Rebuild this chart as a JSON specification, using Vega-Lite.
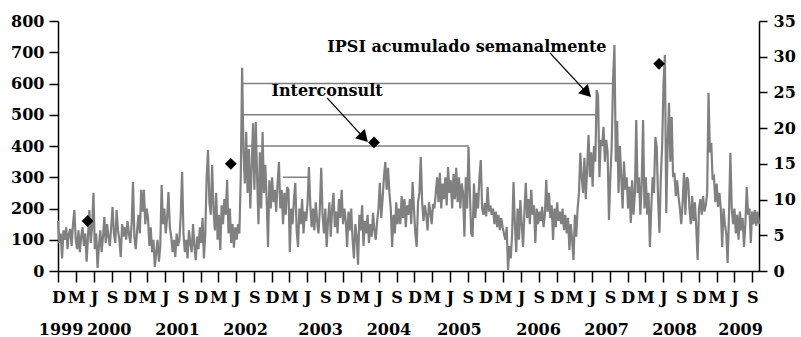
{
"$schema": "https://vega.github.io/schema/vega-lite/v6.json",
"width": 701, "height": 250,
"autosize": {"type": "none"},
"padding": {"left": 58, "top": 21, "right": 42, "bottom": 66},
"background": "white",
"config": {"view": {"stroke": null}, "axis": {"grid": false, "labelFont": "DejaVu Serif", "labelFontWeight": "bold", "labelFontSize": 16, "labelColor": "black", "domainColor": "black", "tickColor": "black", "domainWidth": 1.5, "tickWidth": 1.5}},
"datasets": {
"ipsi": [
{"d":"1999-11-29","v":160},{"d":"1999-12-06","v":90},{"d":"1999-12-13","v":120},{"d":"1999-12-20","v":40},{"d":"1999-12-27","v":130},
{"d":"2000-01-03","v":100},{"d":"2000-01-10","v":140},{"d":"2000-01-17","v":70},{"d":"2000-01-24","v":120},{"d":"2000-01-31","v":135},{"d":"2000-02-07","v":80},{"d":"2000-02-14","v":150},{"d":"2000-02-21","v":195},{"d":"2000-02-28","v":100},{"d":"2000-03-06","v":70},{"d":"2000-03-13","v":130},{"d":"2000-03-20","v":60},{"d":"2000-03-27","v":110},{"d":"2000-04-03","v":140},{"d":"2000-04-10","v":80},{"d":"2000-04-17","v":120},{"d":"2000-04-24","v":30},{"d":"2000-05-01","v":110},{"d":"2000-05-08","v":195},{"d":"2000-05-15","v":90},{"d":"2000-05-22","v":140},{"d":"2000-05-29","v":250},{"d":"2000-06-05","v":70},{"d":"2000-06-12","v":120},{"d":"2000-06-19","v":10},{"d":"2000-06-26","v":80},{"d":"2000-07-03","v":130},{"d":"2000-07-10","v":60},{"d":"2000-07-17","v":110},{"d":"2000-07-24","v":173},{"d":"2000-07-31","v":90},{"d":"2000-08-07","v":150},{"d":"2000-08-14","v":110},{"d":"2000-08-21","v":80},{"d":"2000-08-28","v":140},{"d":"2000-09-04","v":205},{"d":"2000-09-11","v":120},{"d":"2000-09-18","v":90},{"d":"2000-09-25","v":195},{"d":"2000-10-02","v":130},{"d":"2000-10-09","v":100},{"d":"2000-10-16","v":45},{"d":"2000-10-23","v":150},{"d":"2000-10-30","v":110},{"d":"2000-11-06","v":140},{"d":"2000-11-13","v":100},{"d":"2000-11-20","v":160},{"d":"2000-11-27","v":120},{"d":"2000-12-04","v":90},{"d":"2000-12-11","v":150},{"d":"2000-12-18","v":285},{"d":"2000-12-25","v":110},
{"d":"2001-01-01","v":70},{"d":"2001-01-08","v":130},{"d":"2001-01-15","v":180},{"d":"2001-01-22","v":120},{"d":"2001-01-29","v":260},{"d":"2001-02-05","v":190},{"d":"2001-02-12","v":260},{"d":"2001-02-19","v":150},{"d":"2001-02-26","v":200},{"d":"2001-03-05","v":170},{"d":"2001-03-12","v":80},{"d":"2001-03-19","v":140},{"d":"2001-03-26","v":60},{"d":"2001-04-02","v":100},{"d":"2001-04-09","v":13},{"d":"2001-04-16","v":60},{"d":"2001-04-23","v":100},{"d":"2001-04-30","v":30},{"d":"2001-05-07","v":80},{"d":"2001-05-14","v":275},{"d":"2001-05-21","v":150},{"d":"2001-05-28","v":200},{"d":"2001-06-04","v":120},{"d":"2001-06-11","v":170},{"d":"2001-06-18","v":253},{"d":"2001-06-25","v":140},{"d":"2001-07-02","v":110},{"d":"2001-07-09","v":60},{"d":"2001-07-16","v":100},{"d":"2001-07-23","v":45},{"d":"2001-07-30","v":120},{"d":"2001-08-06","v":80},{"d":"2001-08-13","v":100},{"d":"2001-08-20","v":180},{"d":"2001-08-27","v":317},{"d":"2001-09-03","v":120},{"d":"2001-09-10","v":60},{"d":"2001-09-17","v":100},{"d":"2001-09-24","v":40},{"d":"2001-10-01","v":130},{"d":"2001-10-08","v":90},{"d":"2001-10-15","v":60},{"d":"2001-10-22","v":150},{"d":"2001-10-29","v":80},{"d":"2001-11-05","v":35},{"d":"2001-11-12","v":110},{"d":"2001-11-19","v":70},{"d":"2001-11-26","v":140},{"d":"2001-12-03","v":90},{"d":"2001-12-10","v":170},{"d":"2001-12-17","v":40},{"d":"2001-12-24","v":120},{"d":"2001-12-31","v":300},
{"d":"2002-01-07","v":387},{"d":"2002-01-14","v":220},{"d":"2002-01-21","v":180},{"d":"2002-01-28","v":339},{"d":"2002-02-04","v":200},{"d":"2002-02-11","v":130},{"d":"2002-02-18","v":250},{"d":"2002-02-25","v":100},{"d":"2002-03-04","v":180},{"d":"2002-03-11","v":67},{"d":"2002-03-18","v":210},{"d":"2002-03-25","v":150},{"d":"2002-04-01","v":230},{"d":"2002-04-08","v":180},{"d":"2002-04-15","v":291},{"d":"2002-04-22","v":120},{"d":"2002-04-29","v":200},{"d":"2002-05-06","v":90},{"d":"2002-05-13","v":150},{"d":"2002-05-20","v":75},{"d":"2002-05-27","v":140},{"d":"2002-06-03","v":100},{"d":"2002-06-10","v":150},{"d":"2002-06-17","v":120},{"d":"2002-06-24","v":300},{"d":"2002-07-01","v":650},{"d":"2002-07-08","v":380},{"d":"2002-07-15","v":280},{"d":"2002-07-22","v":445},{"d":"2002-07-29","v":250},{"d":"2002-08-05","v":390},{"d":"2002-08-12","v":200},{"d":"2002-08-19","v":330},{"d":"2002-08-26","v":473},{"d":"2002-09-02","v":260},{"d":"2002-09-09","v":477},{"d":"2002-09-16","v":300},{"d":"2002-09-23","v":150},{"d":"2002-09-30","v":380},{"d":"2002-10-07","v":200},{"d":"2002-10-14","v":445},{"d":"2002-10-21","v":250},{"d":"2002-10-28","v":340},{"d":"2002-11-04","v":230},{"d":"2002-11-11","v":77},{"d":"2002-11-18","v":290},{"d":"2002-11-25","v":200},{"d":"2002-12-02","v":300},{"d":"2002-12-09","v":220},{"d":"2002-12-16","v":260},{"d":"2002-12-23","v":190},{"d":"2002-12-30","v":280},
{"d":"2003-01-06","v":349},{"d":"2003-01-13","v":200},{"d":"2003-01-20","v":260},{"d":"2003-01-27","v":150},{"d":"2003-02-03","v":250},{"d":"2003-02-10","v":180},{"d":"2003-02-17","v":269},{"d":"2003-02-24","v":260},{"d":"2003-03-03","v":61},{"d":"2003-03-10","v":200},{"d":"2003-03-17","v":150},{"d":"2003-03-24","v":230},{"d":"2003-03-31","v":282},{"d":"2003-04-07","v":130},{"d":"2003-04-14","v":77},{"d":"2003-04-21","v":200},{"d":"2003-04-28","v":150},{"d":"2003-05-05","v":230},{"d":"2003-05-12","v":120},{"d":"2003-05-19","v":190},{"d":"2003-05-26","v":160},{"d":"2003-06-02","v":220},{"d":"2003-06-09","v":333},{"d":"2003-06-16","v":210},{"d":"2003-06-23","v":140},{"d":"2003-06-30","v":200},{"d":"2003-07-07","v":130},{"d":"2003-07-14","v":220},{"d":"2003-07-21","v":160},{"d":"2003-07-28","v":120},{"d":"2003-08-04","v":200},{"d":"2003-08-11","v":330},{"d":"2003-08-18","v":180},{"d":"2003-08-25","v":120},{"d":"2003-09-01","v":200},{"d":"2003-09-08","v":77},{"d":"2003-09-15","v":160},{"d":"2003-09-22","v":220},{"d":"2003-09-29","v":110},{"d":"2003-10-06","v":200},{"d":"2003-10-13","v":250},{"d":"2003-10-20","v":140},{"d":"2003-10-27","v":190},{"d":"2003-11-03","v":120},{"d":"2003-11-10","v":230},{"d":"2003-11-17","v":170},{"d":"2003-11-24","v":260},{"d":"2003-12-01","v":150},{"d":"2003-12-08","v":200},{"d":"2003-12-15","v":160},{"d":"2003-12-22","v":77},{"d":"2003-12-29","v":190},
{"d":"2004-01-05","v":130},{"d":"2004-01-12","v":200},{"d":"2004-01-19","v":100},{"d":"2004-01-26","v":40},{"d":"2004-02-02","v":150},{"d":"2004-02-09","v":110},{"d":"2004-02-16","v":20},{"d":"2004-02-23","v":180},{"d":"2004-03-01","v":130},{"d":"2004-03-08","v":210},{"d":"2004-03-15","v":80},{"d":"2004-03-22","v":160},{"d":"2004-03-29","v":120},{"d":"2004-04-05","v":180},{"d":"2004-04-12","v":90},{"d":"2004-04-19","v":150},{"d":"2004-04-26","v":110},{"d":"2004-05-03","v":186},{"d":"2004-05-10","v":130},{"d":"2004-05-17","v":100},{"d":"2004-05-24","v":160},{"d":"2004-05-31","v":200},{"d":"2004-06-07","v":282},{"d":"2004-06-14","v":170},{"d":"2004-06-21","v":230},{"d":"2004-06-28","v":300},{"d":"2004-07-05","v":349},{"d":"2004-07-12","v":260},{"d":"2004-07-19","v":330},{"d":"2004-07-26","v":250},{"d":"2004-08-02","v":200},{"d":"2004-08-09","v":77},{"d":"2004-08-16","v":180},{"d":"2004-08-23","v":120},{"d":"2004-08-30","v":220},{"d":"2004-09-06","v":150},{"d":"2004-09-13","v":200},{"d":"2004-09-20","v":150},{"d":"2004-09-27","v":240},{"d":"2004-10-04","v":170},{"d":"2004-10-11","v":230},{"d":"2004-10-18","v":140},{"d":"2004-10-25","v":210},{"d":"2004-11-01","v":180},{"d":"2004-11-08","v":230},{"d":"2004-11-15","v":150},{"d":"2004-11-22","v":285},{"d":"2004-11-29","v":200},{"d":"2004-12-06","v":120},{"d":"2004-12-13","v":77},{"d":"2004-12-20","v":220},{"d":"2004-12-27","v":250},
{"d":"2005-01-03","v":365},{"d":"2005-01-10","v":220},{"d":"2005-01-17","v":160},{"d":"2005-01-24","v":210},{"d":"2005-01-31","v":180},{"d":"2005-02-07","v":130},{"d":"2005-02-14","v":220},{"d":"2005-02-21","v":190},{"d":"2005-02-28","v":150},{"d":"2005-03-07","v":215},{"d":"2005-03-14","v":200},{"d":"2005-03-21","v":250},{"d":"2005-03-28","v":300},{"d":"2005-04-04","v":220},{"d":"2005-04-11","v":314},{"d":"2005-04-18","v":200},{"d":"2005-04-25","v":280},{"d":"2005-05-02","v":230},{"d":"2005-05-09","v":300},{"d":"2005-05-16","v":210},{"d":"2005-05-23","v":333},{"d":"2005-05-30","v":250},{"d":"2005-06-06","v":290},{"d":"2005-06-13","v":200},{"d":"2005-06-20","v":310},{"d":"2005-06-27","v":230},{"d":"2005-07-04","v":330},{"d":"2005-07-11","v":220},{"d":"2005-07-18","v":300},{"d":"2005-07-25","v":200},{"d":"2005-08-01","v":280},{"d":"2005-08-08","v":250},{"d":"2005-08-15","v":110},{"d":"2005-08-22","v":300},{"d":"2005-08-29","v":200},{"d":"2005-09-05","v":397},{"d":"2005-09-12","v":250},{"d":"2005-09-19","v":120},{"d":"2005-09-26","v":110},{"d":"2005-10-03","v":280},{"d":"2005-10-10","v":170},{"d":"2005-10-17","v":250},{"d":"2005-10-24","v":200},{"d":"2005-10-31","v":300},{"d":"2005-11-07","v":355},{"d":"2005-11-14","v":200},{"d":"2005-11-21","v":180},{"d":"2005-11-28","v":217},{"d":"2005-12-05","v":175},{"d":"2005-12-12","v":269},{"d":"2005-12-19","v":190},{"d":"2005-12-26","v":210},
{"d":"2006-01-02","v":180},{"d":"2006-01-09","v":200},{"d":"2006-01-16","v":150},{"d":"2006-01-23","v":190},{"d":"2006-01-30","v":140},{"d":"2006-02-06","v":180},{"d":"2006-02-13","v":131},{"d":"2006-02-20","v":170},{"d":"2006-02-27","v":140},{"d":"2006-03-06","v":120},{"d":"2006-03-13","v":100},{"d":"2006-03-20","v":141},{"d":"2006-03-27","v":3},{"d":"2006-04-03","v":80},{"d":"2006-04-10","v":40},{"d":"2006-04-17","v":120},{"d":"2006-04-24","v":285},{"d":"2006-05-01","v":150},{"d":"2006-05-08","v":60},{"d":"2006-05-15","v":200},{"d":"2006-05-22","v":100},{"d":"2006-05-29","v":227},{"d":"2006-06-05","v":150},{"d":"2006-06-12","v":77},{"d":"2006-06-19","v":190},{"d":"2006-06-26","v":282},{"d":"2006-07-03","v":170},{"d":"2006-07-10","v":230},{"d":"2006-07-17","v":150},{"d":"2006-07-24","v":260},{"d":"2006-07-31","v":180},{"d":"2006-08-07","v":210},{"d":"2006-08-14","v":90},{"d":"2006-08-21","v":200},{"d":"2006-08-28","v":150},{"d":"2006-09-04","v":190},{"d":"2006-09-11","v":160},{"d":"2006-09-18","v":205},{"d":"2006-09-25","v":140},{"d":"2006-10-02","v":180},{"d":"2006-10-09","v":291},{"d":"2006-10-16","v":190},{"d":"2006-10-23","v":250},{"d":"2006-10-30","v":170},{"d":"2006-11-06","v":210},{"d":"2006-11-13","v":99},{"d":"2006-11-20","v":200},{"d":"2006-11-27","v":140},{"d":"2006-12-04","v":220},{"d":"2006-12-11","v":160},{"d":"2006-12-18","v":190},{"d":"2006-12-25","v":150},
{"d":"2007-01-01","v":200},{"d":"2007-01-08","v":131},{"d":"2007-01-15","v":180},{"d":"2007-01-22","v":120},{"d":"2007-01-29","v":170},{"d":"2007-02-05","v":67},{"d":"2007-02-12","v":150},{"d":"2007-02-19","v":100},{"d":"2007-02-26","v":35},{"d":"2007-03-05","v":180},{"d":"2007-03-12","v":110},{"d":"2007-03-19","v":200},{"d":"2007-03-26","v":250},{"d":"2007-04-02","v":378},{"d":"2007-04-09","v":300},{"d":"2007-04-16","v":250},{"d":"2007-04-23","v":362},{"d":"2007-04-30","v":230},{"d":"2007-05-07","v":330},{"d":"2007-05-14","v":435},{"d":"2007-05-21","v":300},{"d":"2007-05-28","v":380},{"d":"2007-06-04","v":270},{"d":"2007-06-11","v":400},{"d":"2007-06-18","v":350},{"d":"2007-06-25","v":579},{"d":"2007-07-02","v":560},{"d":"2007-07-09","v":300},{"d":"2007-07-16","v":420},{"d":"2007-07-23","v":400},{"d":"2007-07-30","v":461},{"d":"2007-08-06","v":350},{"d":"2007-08-13","v":420},{"d":"2007-08-20","v":380},{"d":"2007-08-27","v":163},{"d":"2007-09-03","v":300},{"d":"2007-09-10","v":400},{"d":"2007-09-17","v":611},{"d":"2007-09-24","v":723},{"d":"2007-10-01","v":350},{"d":"2007-10-08","v":480},{"d":"2007-10-15","v":250},{"d":"2007-10-22","v":400},{"d":"2007-10-29","v":300},{"d":"2007-11-05","v":200},{"d":"2007-11-12","v":350},{"d":"2007-11-19","v":260},{"d":"2007-11-26","v":300},{"d":"2007-12-03","v":200},{"d":"2007-12-10","v":270},{"d":"2007-12-17","v":154},{"d":"2007-12-24","v":290},{"d":"2007-12-31","v":180},
{"d":"2008-01-07","v":250},{"d":"2008-01-14","v":483},{"d":"2008-01-21","v":250},{"d":"2008-01-28","v":300},{"d":"2008-02-04","v":180},{"d":"2008-02-11","v":280},{"d":"2008-02-18","v":483},{"d":"2008-02-25","v":200},{"d":"2008-03-03","v":300},{"d":"2008-03-10","v":180},{"d":"2008-03-17","v":250},{"d":"2008-03-24","v":77},{"d":"2008-03-31","v":200},{"d":"2008-04-07","v":300},{"d":"2008-04-14","v":250},{"d":"2008-04-21","v":429},{"d":"2008-04-28","v":397},{"d":"2008-05-05","v":230},{"d":"2008-05-12","v":122},{"d":"2008-05-19","v":300},{"d":"2008-05-26","v":400},{"d":"2008-06-02","v":602},{"d":"2008-06-09","v":691},{"d":"2008-06-16","v":186},{"d":"2008-06-23","v":400},{"d":"2008-06-30","v":538},{"d":"2008-07-07","v":350},{"d":"2008-07-14","v":493},{"d":"2008-07-21","v":300},{"d":"2008-07-28","v":314},{"d":"2008-08-04","v":240},{"d":"2008-08-11","v":290},{"d":"2008-08-18","v":237},{"d":"2008-08-25","v":200},{"d":"2008-09-01","v":150},{"d":"2008-09-08","v":220},{"d":"2008-09-15","v":314},{"d":"2008-09-22","v":180},{"d":"2008-09-29","v":300},{"d":"2008-10-06","v":291},{"d":"2008-10-13","v":200},{"d":"2008-10-20","v":150},{"d":"2008-10-27","v":240},{"d":"2008-11-03","v":160},{"d":"2008-11-10","v":220},{"d":"2008-11-17","v":140},{"d":"2008-11-24","v":35},{"d":"2008-12-01","v":200},{"d":"2008-12-08","v":230},{"d":"2008-12-15","v":180},{"d":"2008-12-22","v":240},{"d":"2008-12-29","v":190},
{"d":"2009-01-05","v":210},{"d":"2009-01-12","v":250},{"d":"2009-01-19","v":570},{"d":"2009-01-26","v":380},{"d":"2009-02-02","v":410},{"d":"2009-02-09","v":291},{"d":"2009-02-16","v":300},{"d":"2009-02-23","v":220},{"d":"2009-03-02","v":280},{"d":"2009-03-09","v":205},{"d":"2009-03-16","v":250},{"d":"2009-03-23","v":200},{"d":"2009-03-30","v":77},{"d":"2009-04-06","v":200},{"d":"2009-04-13","v":150},{"d":"2009-04-20","v":120},{"d":"2009-04-27","v":26},{"d":"2009-05-04","v":180},{"d":"2009-05-11","v":378},{"d":"2009-05-18","v":200},{"d":"2009-05-25","v":150},{"d":"2009-06-01","v":200},{"d":"2009-06-08","v":120},{"d":"2009-06-15","v":180},{"d":"2009-06-22","v":100},{"d":"2009-06-29","v":190},{"d":"2009-07-06","v":130},{"d":"2009-07-13","v":170},{"d":"2009-07-20","v":77},{"d":"2009-07-27","v":150},{"d":"2009-08-03","v":269},{"d":"2009-08-10","v":180},{"d":"2009-08-17","v":200},{"d":"2009-08-24","v":90},{"d":"2009-08-31","v":190},{"d":"2009-09-07","v":150},{"d":"2009-09-14","v":195},{"d":"2009-09-21","v":145},{"d":"2009-09-28","v":190},{"d":"2009-10-05","v":150}
],
"inter": [{"d":"2000-04-29","v":7},{"d":"2002-05-04","v":15},{"d":"2004-05-08","v":18},{"d":"2008-05-10","v":29}],
"brackets": [{"d":"2002-06-30","d2":"2007-09-11","v":600},{"d":"2002-06-30","d2":"2007-07-02","v":500},{"d":"2002-07-16","d2":"2005-09-07","v":400},{"d":"2003-01-27","d2":"2003-06-04","v":300}],
"arrows": [{"d":"2006-10-28","v":698,"d2":"2007-05-06","v2":570,"a":47},{"d":"2003-09-10","v":554,"d2":"2004-03-17","v2":426,"a":47}],
"labels": [{"d":"2005-08-28","v":701,"t":"IPSI acumulado semanalmente"},{"d":"2003-09-10","v":560,"t":"Interconsult"}]
},
"resolve": {"scale": {"y": "independent"}, "axis": {"x": "independent"}},
"layer": [
{
"data": {"name": "brackets", "format": {"parse": {"d": "date", "d2": "date"}}},
"mark": {"type": "rule", "color": "#808080", "strokeWidth": 1.5},
"encoding": {
"x": {"field": "d", "type": "temporal", "scale": {"domain": [{"year":1999,"month":11,"date":29},{"year":2009,"month":10,"date":5}], "nice": false}, "axis": null},
"x2": {"field": "d2"},
"y": {"field": "v", "type": "quantitative", "scale": {"domain": [0, 800], "nice": false}, "axis": null}
}
},
{
"data": {"name": "ipsi", "format": {"parse": {"d": "date"}}},
"mark": {"type": "line", "color": "#808080", "strokeWidth": 2.2},
"encoding": {
"x": {"field": "d", "type": "temporal", "scale": {"domain": [{"year":1999,"month":11,"date":29},{"year":2009,"month":10,"date":5}], "nice": false},
"axis": {"title": null, "orient": "bottom", "format": "%b", "labelExpr": "substring(datum.label, 0, 1)", "labelOverlap": false, "labelFlush": false, "tickSize": 11, "labelPadding": 7,
"values": [{"year":1999,"month":12,"date":1},
{"year":2000,"month":3,"date":1},{"year":2000,"month":6,"date":1},{"year":2000,"month":9,"date":1},{"year":2000,"month":12,"date":1},
{"year":2001,"month":3,"date":1},{"year":2001,"month":6,"date":1},{"year":2001,"month":9,"date":1},{"year":2001,"month":12,"date":1},
{"year":2002,"month":3,"date":1},{"year":2002,"month":6,"date":1},{"year":2002,"month":9,"date":1},{"year":2002,"month":12,"date":1},
{"year":2003,"month":3,"date":1},{"year":2003,"month":6,"date":1},{"year":2003,"month":9,"date":1},{"year":2003,"month":12,"date":1},
{"year":2004,"month":3,"date":1},{"year":2004,"month":6,"date":1},{"year":2004,"month":9,"date":1},{"year":2004,"month":12,"date":1},
{"year":2005,"month":3,"date":1},{"year":2005,"month":6,"date":1},{"year":2005,"month":9,"date":1},{"year":2005,"month":12,"date":1},
{"year":2006,"month":3,"date":1},{"year":2006,"month":6,"date":1},{"year":2006,"month":9,"date":1},{"year":2006,"month":12,"date":1},
{"year":2007,"month":3,"date":1},{"year":2007,"month":6,"date":1},{"year":2007,"month":9,"date":1},{"year":2007,"month":12,"date":1},
{"year":2008,"month":3,"date":1},{"year":2008,"month":6,"date":1},{"year":2008,"month":9,"date":1},{"year":2008,"month":12,"date":1},
{"year":2009,"month":3,"date":1},{"year":2009,"month":6,"date":1},{"year":2009,"month":9,"date":1}]}},
"y": {"field": "v", "type": "quantitative", "scale": {"domain": [0, 800], "nice": false},
"axis": {"title": null, "orient": "left", "values": [0,100,200,300,400,500,600,700,800], "tickSize": 9, "labelPadding": 5}}
}
},
{
"data": {"name": "arrows", "format": {"parse": {"d": "date", "d2": "date"}}},
"mark": {"type": "rule", "color": "black", "strokeWidth": 1.3},
"encoding": {
"x": {"field": "d", "type": "temporal", "scale": {"domain": [{"year":1999,"month":11,"date":29},{"year":2009,"month":10,"date":5}], "nice": false}, "axis": null},
"x2": {"field": "d2"},
"y": {"field": "v", "type": "quantitative", "scale": {"domain": [0, 800], "nice": false}, "axis": null},
"y2": {"field": "v2"}
}
},
{
"data": {"name": "arrows", "format": {"parse": {"d2": "date"}}},
"mark": {"type": "point", "shape": "triangle-right", "filled": true, "color": "black", "size": 180, "opacity": 1},
"encoding": {
"x": {"field": "d2", "type": "temporal", "scale": {"domain": [{"year":1999,"month":11,"date":29},{"year":2009,"month":10,"date":5}], "nice": false}, "axis": null},
"y": {"field": "v2", "type": "quantitative", "scale": {"domain": [0, 800], "nice": false}, "axis": null},
"angle": {"field": "a", "type": "quantitative", "scale": null}
}
},
{
"data": {"name": "labels", "format": {"parse": {"d": "date"}}},
"mark": {"type": "text", "font": "DejaVu Serif", "fontWeight": "bold", "fontSize": 16, "color": "black", "align": "center", "baseline": "alphabetic"},
"encoding": {
"x": {"field": "d", "type": "temporal", "scale": {"domain": [{"year":1999,"month":11,"date":29},{"year":2009,"month":10,"date":5}], "nice": false}, "axis": null},
"y": {"field": "v", "type": "quantitative", "scale": {"domain": [0, 800], "nice": false}, "axis": null},
"text": {"field": "t"}
}
},
{
"data": {"name": "inter", "format": {"parse": {"d": "date"}}},
"mark": {"type": "point", "shape": "diamond", "filled": true, "color": "black", "size": 140, "opacity": 1},
"encoding": {
"x": {"field": "d", "type": "temporal", "scale": {"domain": [{"year":1999,"month":11,"date":29},{"year":2009,"month":10,"date":5}], "nice": false},
"axis": {"title": null, "orient": "bottom", "format": "%Y", "labelOverlap": false, "labelFlush": false, "ticks": false, "domain": false, "tickSize": 0, "labelPadding": 50,
"values": [{"year":1999,"month":12,"date":12},{"year":2000,"month":8,"date":15},{"year":2001,"month":8,"date":1},{"year":2002,"month":7,"date":16},{"year":2003,"month":8,"date":5},{"year":2004,"month":7,"date":21},{"year":2005,"month":7,"date":18},{"year":2006,"month":8,"date":28},{"year":2007,"month":8,"date":12},{"year":2008,"month":7,"date":26},{"year":2009,"month":6,"date":30}]}},
"y": {"field": "v", "type": "quantitative", "scale": {"domain": [0, 35], "nice": false},
"axis": {"title": null, "orient": "right", "values": [0,5,10,15,20,25,30,35], "tickSize": 8, "labelPadding": 6}}
}
}
]
}
